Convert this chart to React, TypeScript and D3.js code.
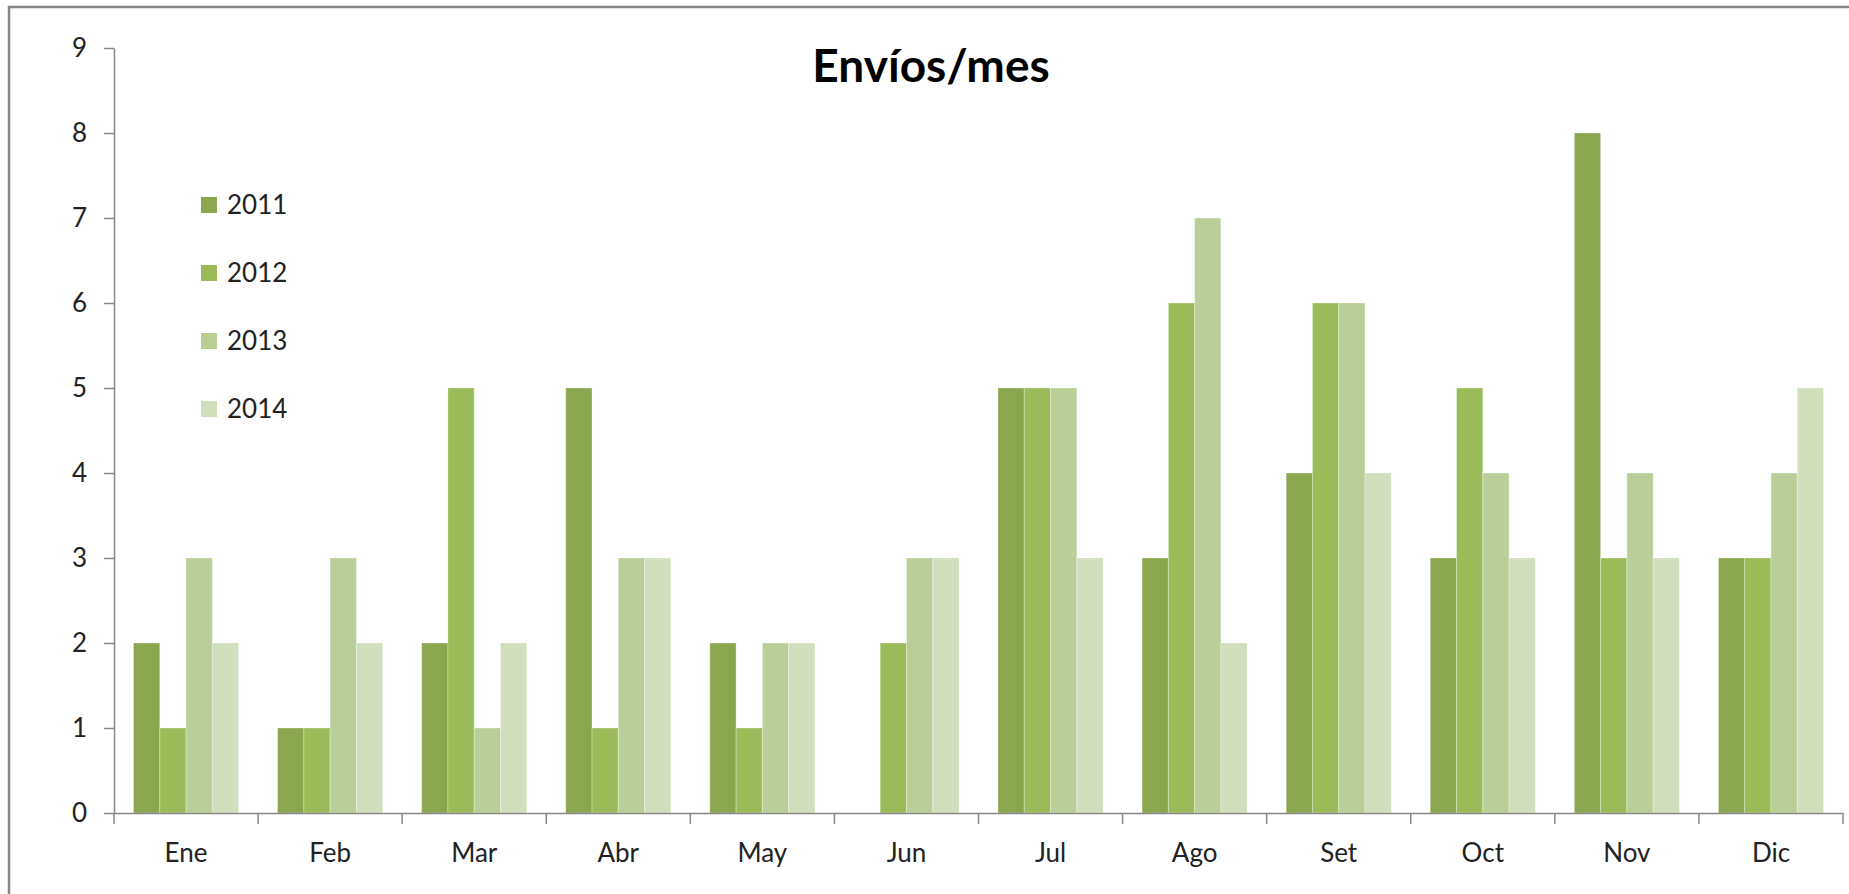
import React, { useRef, useEffect } from 'react';
import * as d3 from 'd3';

const months = ['Ene', 'Feb', 'Mar', 'Abr', 'May', 'Jun', 'Jul', 'Ago', 'Set', 'Oct', 'Nov', 'Dic'];
const years = ['2011', '2012', '2013', '2014'];
const v2011 = [2, 1, 2, 5, 2, 0, 5, 3, 4, 3, 8, 3];
const v2012 = [1, 1, 5, 1, 1, 2, 5, 6, 6, 5, 3, 3];
const v2013 = [3, 3, 1, 3, 2, 3, 5, 7, 6, 4, 4, 4];
const v2014 = [2, 2, 2, 3, 2, 3, 3, 2, 4, 3, 3, 5];
const colors = ['#8AA64F', '#9BBB59', '#B9CF97', '#D1DFBD'];
const yTicks = [0, 1, 2, 3, 4, 5, 6, 7, 8, 9];

const W = 1849;
const H = 894;
const FONT = 'Lato, "Open Sans", sans-serif';

const App: React.FC = () => {
    const ref = useRef<SVGSVGElement | null>(null);

    useEffect(() => {
        const svg = d3.select(ref.current);
        svg.selectAll('*').remove();

        const series = [v2011, v2012, v2013, v2014];
        const left = 114, right = 1843, top = 48, bottom = 813;

        svg.append('rect').attr('width', W).attr('height', H).attr('fill', '#fff');
        // chart frame
        svg.append('rect')
            .attr('x', 9).attr('y', 7)
            .attr('width', W + 20).attr('height', H + 20)
            .attr('fill', 'none').attr('stroke', '#868686').attr('stroke-width', 2.5);

        const x = d3.scaleBand<string>().domain(months).range([left, right]).paddingInner(0).paddingOuter(0);
        const groupPad = 19.5;
        const xs = d3.scaleBand<string>().domain(years)
            .range([groupPad, x.bandwidth() - groupPad]);
        const y = d3.scaleLinear().domain([0, 9]).range([bottom, top]);

        // bars
        series.forEach((vals, si) => {
            svg.append('g')
                .selectAll('rect')
                .data(vals)
                .join('rect')
                .attr('x', (d, i) => (x(months[i]) as number) + (xs(years[si]) as number))
                .attr('y', d => y(d))
                .attr('width', xs.bandwidth())
                .attr('height', d => bottom - y(d))
                .attr('fill', colors[si])
                .attr('stroke', d => d > 0 ? 'rgba(255,255,255,0.3)' : 'none')
                .attr('stroke-width', 1);
        });

        // y axis
        const yAxis = svg.append('g')
            .attr('transform', `translate(${left},0)`)
            .call(d3.axisLeft(y).tickValues(yTicks).tickSize(10).tickPadding(17).tickSizeOuter(0));
        yAxis.select('.domain').attr('stroke', '#888').attr('stroke-width', 1.5);
        yAxis.selectAll('.tick line').attr('stroke', '#888').attr('stroke-width', 1.5);
        yAxis.selectAll('.tick text')
            .attr('font-family', FONT).attr('font-size', 26).attr('fill', '#222');

        // x axis
        const xAxis = svg.append('g')
            .attr('transform', `translate(0,${bottom})`)
            .call(d3.axisBottom(x).tickSize(0).tickPadding(31).tickSizeOuter(0));
        xAxis.select('.domain').attr('stroke', '#888').attr('stroke-width', 1.5);
        xAxis.selectAll('.tick text')
            .attr('font-family', FONT).attr('font-size', 26).attr('fill', '#222');
        // boundary ticks between categories
        const bounds = months.map(m => x(m) as number).concat([right]);
        xAxis.append('g')
            .selectAll('line')
            .data(bounds)
            .join('line')
            .attr('x1', d => d).attr('x2', d => d)
            .attr('y1', 0).attr('y2', 11)
            .attr('stroke', '#888').attr('stroke-width', 1.5);

        // title
        svg.append('text')
            .attr('x', 931).attr('y', 82)
            .attr('text-anchor', 'middle')
            .attr('font-family', FONT)
            .attr('font-weight', 'bold')
            .attr('font-size', 46)
            .attr('fill', '#000')
            .text('Envíos/mes');

        // legend
        const legend = svg.append('g').attr('transform', 'translate(201,205)');
        years.forEach((yr, i) => {
            const g = legend.append('g').attr('transform', `translate(0,${i * 68})`);
            g.append('rect').attr('x', 0).attr('y', -8).attr('width', 16).attr('height', 16).attr('fill', colors[i]);
            g.append('text').attr('x', 26).attr('y', 9)
                .attr('font-family', FONT).attr('font-size', 26).attr('fill', '#222')
                .text(yr);
        });
    }, []);

    return (
        <div style={{ position: 'fixed', left: 0, top: 0 }}>
            <svg ref={ref} width={W} height={H} style={{ display: 'block' }}></svg>
        </div>
    );
};

export default App;
